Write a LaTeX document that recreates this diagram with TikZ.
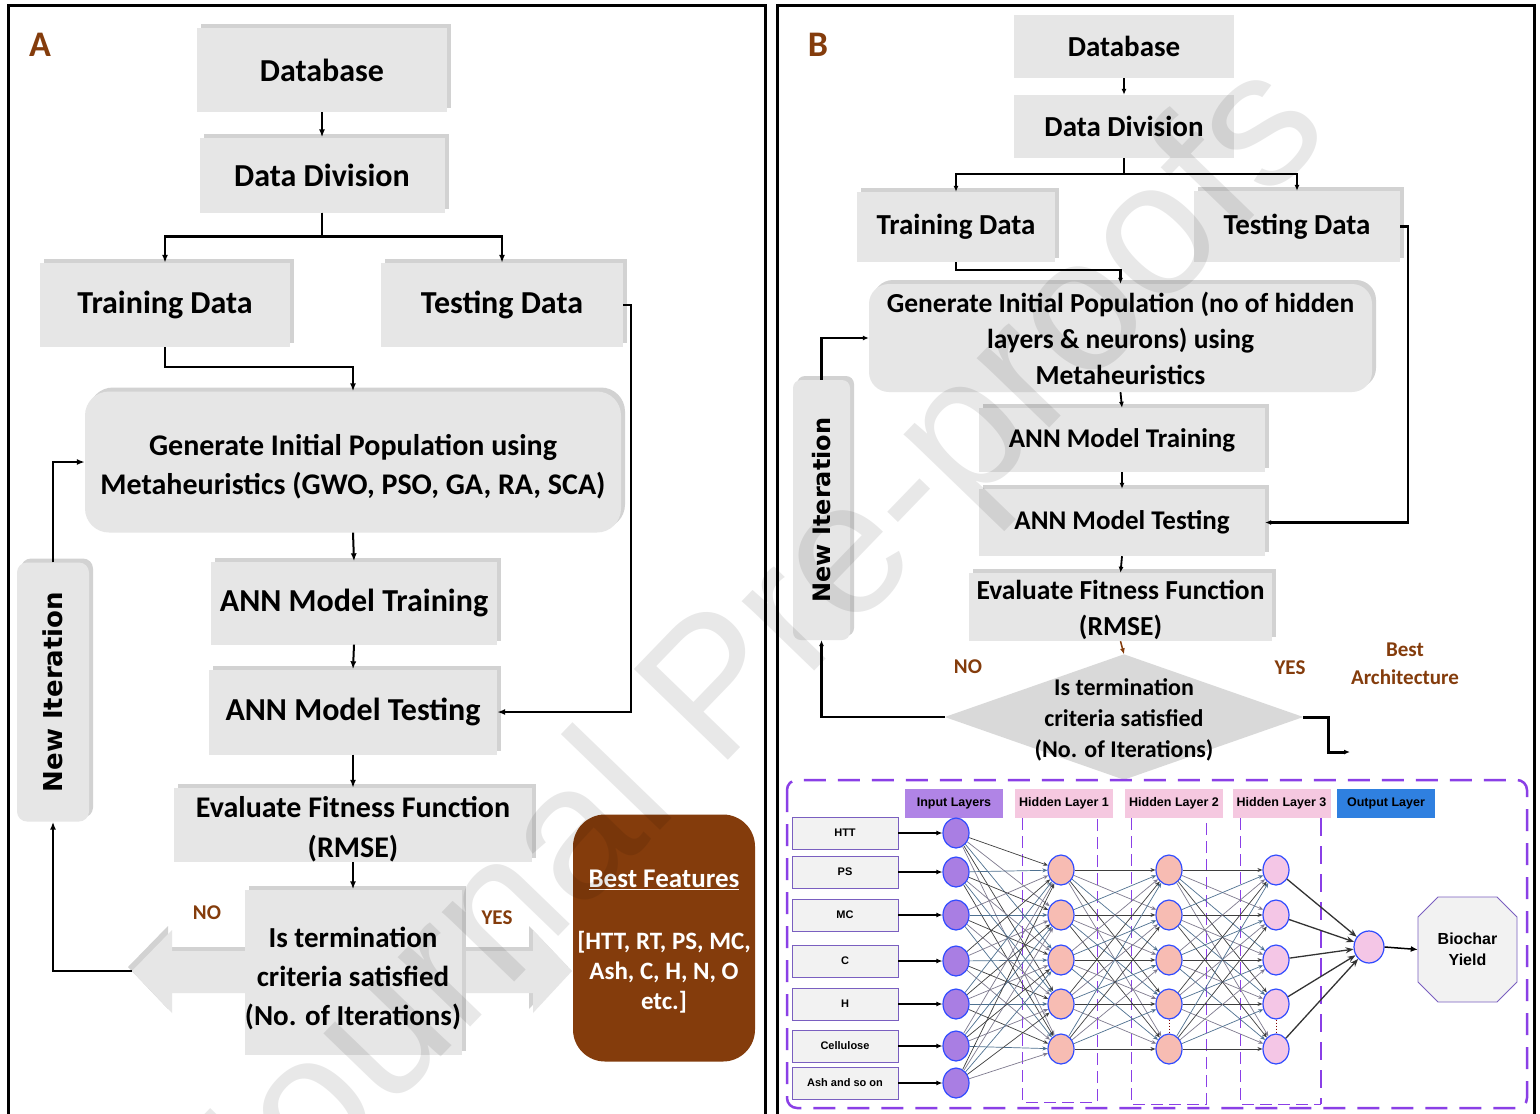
\documentclass[tikz,border=0pt]{standalone}
\usepackage{fontspec}
\setmainfont{Carlito}
\newfontfamily\verd{DejaVu Sans}
\newfontfamily\arl{Liberation Sans}
\usetikzlibrary{arrows.meta,shapes.geometric,shadows,calc}
\definecolor{boxg}{HTML}{E6E6E6}
\definecolor{shg}{HTML}{D2D2D2}
\definecolor{diag}{HTML}{D9D9D9}
\definecolor{brn}{HTML}{843C0C}
\definecolor{purp}{HTML}{8A3FE6}
\definecolor{inpf}{HTML}{A97EE3}
\definecolor{hidf}{HTML}{F7BCB3}
\definecolor{hcf}{HTML}{F4C6E6}
\definecolor{nblue}{HTML}{2F4BFF}
\definecolor{labin}{HTML}{B084E6}
\definecolor{labhid}{HTML}{F5C8E0}
\definecolor{labout}{HTML}{2F80E0}
\definecolor{ibfill}{HTML}{F2F2F2}
\definecolor{ibdraw}{HTML}{7A5FC0}
\definecolor{cA}{HTML}{3E3E3E}
\definecolor{cB}{HTML}{4F7190}
\definecolor{cC}{HTML}{7E7A8E}
\newcommand\fsz[2]{\fontsize{#1}{#2}\selectfont}
\tikzset{
  gbox/.style={fill=boxg, inner sep=0, align=center, font=\bfseries,
    general shadow={fill=shg, shadow xshift=4pt, shadow yshift=4pt}},
  gboxns/.style={fill=boxg, inner sep=0, align=center, font=\bfseries},
  plain/.style={inner sep=0, align=center},
  arr/.style={-{Latex[length=8pt,width=6pt]}, line width=2pt},
  sarr/.style={-{Latex[length=6pt,width=5pt]}, line width=1.8pt},
  brtext/.style={text=brn, font=\bfseries},
  neur/.style={ellipse, draw=nblue, line width=1.2pt, minimum width=26, minimum height=30, inner sep=0},
  inbox/.style={rectangle, fill=ibfill, draw=ibdraw, line width=0.8pt, minimum width=106, minimum height=32, inner sep=0, font=\arl\bfseries\fsz{11}{13}},
  lab/.style={rectangle, minimum width=98, minimum height=29, inner sep=0, font=\arl\bfseries\fsz{12.5}{14}},
  conn/.style={line width=0.7pt, -{Stealth[length=5pt,width=4pt]}},
  oarr/.style={line width=1.3pt, draw=black!80, -{Stealth[length=8pt,width=6pt]}},
  hdash/.style={draw=purp, line width=1pt, dash pattern=on 12pt off 6pt},
}
\begin{document}
\begin{tikzpicture}[x=1pt,y=-1pt]
\useasboundingbox (0,0) rectangle (1540,1114);
\fill[white] (0,0) rectangle (1540,1114);

% ---------- frames ----------
\draw[line width=3pt] (8,1116) -- (8,5) -- (765,5) -- (765,1116);
\draw[line width=3pt] (777,1116) -- (777,5) -- (1534,5) -- (1534,1116);

% =================== PANEL A ===================
\node[brtext, font=\bfseries\fsz{36}{40}] (labA) at (40,45) {A};

\node[gbox, minimum width=250, minimum height=84, font=\bfseries\fsz{32}{38}] (dbA) at (322,70) {Database};
\node[gbox, minimum width=245, minimum height=75, font=\bfseries\fsz{32}{38}] (ddA) at (322,175) {Data Division};
\node[gbox, minimum width=250, minimum height=84, font=\bfseries\fsz{32}{38}] (trA) at (165,305) {Training Data};
\node[gbox, minimum width=242, minimum height=84, font=\bfseries\fsz{32}{38}] (teA) at (502,305) {Testing Data};
\node[gbox, rounded corners=24, minimum width=536, minimum height=141] (genA) at (353,462) {};
\node[plain, font=\bfseries\fsz{30}{39}] (genAt) at (353,467)
  {Generate Initial Population using\\Metaheuristics (GWO, PSO, GA, RA, SCA)};
\node[gbox, minimum width=286, minimum height=83, font=\bfseries\fsz{32}{38}] (annTrA) at (354,603) {ANN Model Training};
\node[gbox, minimum width=288, minimum height=85, font=\bfseries\fsz{32}{38}] (annTeA) at (353,712) {ANN Model Testing};
\node[gbox, minimum width=358, minimum height=74] (evA) at (353,825) {};
\node[plain, font=\bfseries\fsz{30}{40}] (evAt) at (353,829) {Evaluate Fitness Function\\(RMSE)};

% double arrow behind the decision box
\fill[shg] (128,967) -- (168,926) -- (168,947) -- (529,947) -- (529,926) -- (568,967) -- (529,1009) -- (529,989) -- (168,989) -- (168,1009) -- cycle;
\fill[boxg] (132,971) -- (172,930) -- (172,951) -- (533,951) -- (533,930) -- (572,971) -- (533,1013) -- (533,993) -- (172,993) -- (172,1013) -- cycle;
\coordinate (dalt) at (132,971);
\node[gbox, minimum width=217, minimum height=165] (termA) at (353,972) {};
\node[plain, font=\bfseries\fsz{29}{39}] (termAt) at (353,978)
  {Is termination\\criteria satisfied\\(No. of Iterations)};
\node[brtext, font=\bfseries\fsz{21}{24}] (noA) at (207,913) {NO};
\node[brtext, font=\bfseries\fsz{21}{24}] (yesA) at (497,918) {YES};

\node[gbox, rounded corners=10, minimum width=72, minimum height=259] (niA) at (53,692) {};
\node[rotate=90, font=\verd\bfseries\fsz{26}{30}] (niAt) at (53,692) {New Iteration};

\node[fill=brn, rounded corners=32, minimum width=182, minimum height=247, inner sep=0] (bfA) at (664,938) {};
\node[text=white, font=\bfseries\fsz{27}{30}] (bfT) at (664,880) {\underline{Best Features}};
\node[text=white, font=\bfseries\fsz{25}{30}, align=center] (bfL) at (664,972) {[HTT, RT, PS, MC,\\Ash, C, H, N, O\\etc.]};

% connectors A
\draw[arr] (dbA.south) -- (ddA.north);
\draw[arr, line width=2.5pt] (ddA.south) -- ++(0,24) -| (trA.north);
\draw[arr, line width=2.5pt] (ddA.south) -- ++(0,24) -| (teA.north);
\draw[arr, line width=2.5pt] (trA.south) -- ++(0,20) -| (genA.north);
\draw[arr, line width=2.5pt] (teA.east) -- ++(8,0) |- (annTeA.east);
\draw[arr] (genA.south) -- (annTrA.north);
\draw[arr] (annTrA.south) -- (annTeA.north);
\draw[arr] (annTeA.south) -- (evA.north);
\draw[arr] (evA.south) -- (termA.north);
\draw[arr, line width=2.5pt] (dalt) -| (niA.south);
\draw[arr] (niA.north) |- (genA.west);

% =================== PANEL B ===================
\node[brtext, font=\bfseries\fsz{36}{40}] (labB) at (818,45) {B};

\node[gboxns, minimum width=220, minimum height=63, font=\bfseries\fsz{29}{34}] (dbB) at (1124,46.5) {Database};
\node[gboxns, minimum width=220, minimum height=63, font=\bfseries\fsz{29}{34}] (ddB) at (1124,126.5) {Data Division};
\node[gbox, minimum width=198, minimum height=70, font=\bfseries\fsz{29}{34}] (trB) at (956,227) {Training Data};
\node[gbox, minimum width=206, minimum height=71, font=\bfseries\fsz{29}{34}] (teB) at (1297,226.5) {Testing Data};
\node[gbox, rounded corners=20, minimum width=503, minimum height=108, font=\bfseries\fsz{27.5}{36}] (genB) at (1120.5,338)
  {Generate Initial Population (no of hidden\\layers \& neurons) using\\Metaheuristics};
\node[gbox, minimum width=286, minimum height=64, font=\bfseries\fsz{27}{32}] (annTrB) at (1122,440) {ANN Model Training};
\node[gbox, minimum width=286, minimum height=67, font=\bfseries\fsz{27}{32}] (annTeB) at (1122,522.5) {ANN Model Testing};
\node[gbox, minimum width=303, minimum height=68] (evB) at (1120.5,607) {};
\node[plain, font=\bfseries\fsz{27.5}{36}] (evBt) at (1120.5,610) {Evaluate Fitness Function\\(RMSE)};

\node[plain, minimum width=358, minimum height=125] (decB) at (1124,717) {};
\fill[diag] (decB.west) -- (decB.north) -- (decB.east) -- (decB.south) -- cycle;
\node[plain, font=\bfseries\fsz{24}{31}] (decBt) at (1124,720) {Is termination\\criteria satisfied\\(No. of Iterations)};
\node[brtext, font=\bfseries\fsz{21}{24}] (noB) at (968,667) {NO};
\node[brtext, font=\bfseries\fsz{21}{24}] (yesB) at (1290,668) {YES};
\node[brtext, font=\bfseries\fsz{21}{28}, align=center] (bestB) at (1405,664) {Best\\Architecture};

\node[gbox, rounded corners=8, minimum width=57, minimum height=260] (niB) at (821.5,510) {};
\node[rotate=90, font=\verd\bfseries\fsz{24}{28}] (niBt) at (821.5,510) {New Iteration};
\coordinate (bestarr) at (1350,752);

% connectors B
\draw[sarr] (dbB.south) -- (ddB.north);
\draw[sarr, line width=2.5pt] (ddB.south) -- ++(0,16) -| (trB.north);
\draw[sarr, line width=2.5pt] (ddB.south) -- ++(0,16) -| (teB.north);
\draw[sarr, line width=2.5pt] (trB.south) -- ++(0,8) -| (genB.north);
\draw[sarr, line width=2.5pt] (teB.east) -- ++(8,0) |- (annTeB.east);
\draw[sarr] (genB.south) -- (annTrB.north);
\draw[sarr] (annTrB.south) -- (annTeB.north);
\draw[sarr] (annTeB.south) -- (evB.north);
\draw[sarr, draw=brn, line width=1.5pt] (evB.south) -- (decB.north);
\draw[sarr, line width=2.5pt] (decB.west) -| (niB.south);
\draw[sarr, line width=2.5pt] (niB.north) |- (genB.west);
\draw[sarr, line width=3pt] (decB.east) -- ++(25,0) |- (bestarr);

% =================== NEURAL NETWORK ===================
\draw[draw=purp, line width=2.5pt, dash pattern=on 22pt off 12pt, rounded corners=10] (787,780) rectangle (1527,1108);

\node[lab, fill=labin] (lIn) at (954,803.5) {Input Layers};
\node[lab, fill=labhid] (lH1) at (1064,803.5) {Hidden Layer 1};
\node[lab, fill=labhid] (lH2) at (1174,803.5) {Hidden Layer 2};
\node[lab, fill=labhid] (lH3) at (1281.5,803.5) {Hidden Layer 3};
\node[lab, fill=labout] (lOut) at (1386,803.5) {Output Layer};

\draw[hdash] (1022,818) -- (1022,1102) -- (1097,1102) -- (1097,818);
\draw[hdash] (1131,818) -- (1131,1104) -- (1206,1104) -- (1206,818);
\draw[hdash] (1240,818) -- (1240,1104) -- (1321,1104);
\draw[draw=purp, line width=2pt, dash pattern=on 18pt off 10pt] (1321,818) -- (1321,1104);

\foreach \i/\y/\t in {1/833/HTT, 2/872/PS, 3/915/MC, 4/961/C, 5/1004/H, 6/1046/Cellulose, 7/1083/Ash and so on} {
  \node[inbox] (ib\i) at (845,\y) {\t};
  \node[neur, fill=inpf, minimum width=26, minimum height=30] (in\i) at (956,\y) {};
  \draw[-{Latex[length=6pt,width=5pt]}, line width=1.2pt] (ib\i.east) -- (in\i.west);
}
\foreach \j/\y in {1/870,2/915,3/960,4/1004,5/1049} {
  \node[neur, fill=hidf] (ha\j) at (1061,\y) {};
  \node[neur, fill=hidf] (hb\j) at (1169,\y) {};
  \node[neur, fill=hcf] (hc\j) at (1276,\y) {};
}
\node[neur, fill=hcf, minimum width=30, minimum height=32] (outN) at (1369,947) {};

\foreach \i in {1,...,7} {
  \foreach \j in {1,...,5} {
    \pgfmathtruncatemacro\k{mod(\i+2*\j,3)}
    \ifcase\k \def\cc{cA}\or \def\cc{cB}\else \def\cc{cC}\fi
    \draw[conn, draw=\cc] (in\i) -- (ha\j);
  }
}
\foreach \i in {1,...,5} {
  \foreach \j in {1,...,5} {
    \pgfmathtruncatemacro\k{mod(\i+2*\j,3)}
    \ifcase\k \def\cc{cA}\or \def\cc{cB}\else \def\cc{cC}\fi
    \draw[conn, draw=\cc] (ha\i) -- (hb\j);
    \draw[conn, draw=\cc] (hb\i) -- (hc\j);
  }
}
\foreach \j in {1,...,5} { \draw[oarr] (hc\j) -- (outN); }
\draw[dotted, line width=1pt, red!50!black] (hb4.south) -- (hb5.north);
\draw[dotted, line width=1pt, red!50!black] (hc4.south) -- (hc5.north);

\fill[ibfill, draw=ibdraw, line width=0.8pt] (1438,897) -- (1497,897) -- (1517,917) -- (1517,982) -- (1497,1002) -- (1438,1002) -- (1418,982) -- (1418,917) -- cycle;
\node[minimum width=99, minimum height=105, inner sep=0, align=center, font=\arl\bfseries\fsz{16}{21}] (bio) at (1467.5,949.5) {Biochar\\Yield};
\draw[-{Latex[length=7pt,width=6pt]}, line width=1.5pt] (outN.east) -- (bio.west);

% watermark
\node[rotate=46, font=\arl\fsz{190}{190}, text=black, opacity=0.09] (wm) at (756,661) {Journal Pre-proofs};
\end{tikzpicture}
\end{document}
